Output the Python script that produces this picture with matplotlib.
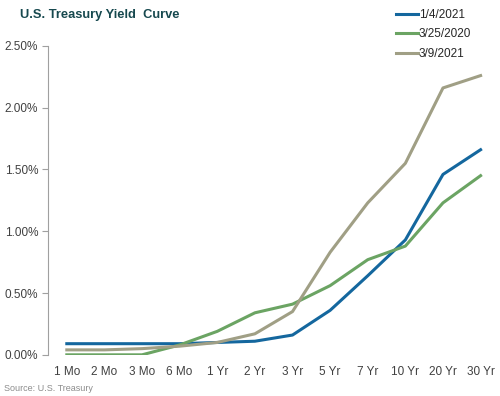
import matplotlib
matplotlib.use("Agg")
import matplotlib.pyplot as plt
from matplotlib.ticker import FuncFormatter

plt.rcParams['font.family'] = ['Liberation Sans', 'DejaVu Sans']

categories = ["1 Mo", "2 Mo", "3 Mo", "6 Mo", "1 Yr", "2 Yr", "3 Yr", "5 Yr", "7 Yr", "10 Yr", "20 Yr", "30 Yr"]
jan4_2021 = [0.09, 0.09, 0.09, 0.09, 0.10, 0.11, 0.16, 0.36, 0.64, 0.93, 1.46, 1.66]
mar25_2020 = [0.00, 0.00, 0.00, 0.08, 0.19, 0.34, 0.41, 0.56, 0.77, 0.88, 1.23, 1.45]
mar9_2021 = [0.04, 0.04, 0.05, 0.07, 0.10, 0.17, 0.35, 0.83, 1.23, 1.55, 2.16, 2.26]
series_labels = ["1/4/2021", "3/25/2020", "3/9/2021"]
yticks = [0.0, 0.5, 1.0, 1.5, 2.0, 2.5]

fig = plt.figure(figsize=(5, 3.96), dpi=100)
ax = fig.add_axes([0.096, 0.104, 0.884, 0.78])
x = list(range(len(categories)))
ax.plot(x, jan4_2021, color="#14679e", lw=2.2, label=series_labels[0])
ax.plot(x, mar25_2020, color="#6ba463", lw=2.2, label=series_labels[1])
ax.plot(x, mar9_2021, color="#a09f85", lw=2.2, label=series_labels[2])

ax.set_xlim(-0.5, 11.25)
ax.set_ylim(0, 2.5)
ax.set_yticks(yticks)
ax.yaxis.set_major_formatter(FuncFormatter(lambda v, p: f"{v:.2f}%"))
ax.set_xticks(x)
ax.set_xticklabels(categories)
for s in ["top", "right", "bottom"]:
    ax.spines[s].set_visible(False)
ax.spines["left"].set_color("#a0a0a0")
ax.tick_params(axis="y", length=4, color="#a0a0a0", labelsize=8.5, labelcolor="#404040", pad=3)
ax.tick_params(axis="x", length=0, labelsize=8.5, labelcolor="#404040", pad=8)

fig.text(0.04, 0.962, "U.S. Treasury Yield  Curve", fontsize=9.3, fontweight="bold", color="#17494f", va="center")
fig.text(0.008, 0.018, "Source: U.S. Treasury", fontsize=6.5, color="#8c8c8c", va="center")

leg = fig.legend(loc="upper left", bbox_to_anchor=(0.77, 1.005), frameon=False, fontsize=8.5,
                 handlelength=1.9, handletextpad=0.05, labelspacing=0.65, labelcolor="#262626")

fig.savefig("out.png", dpi=100)
